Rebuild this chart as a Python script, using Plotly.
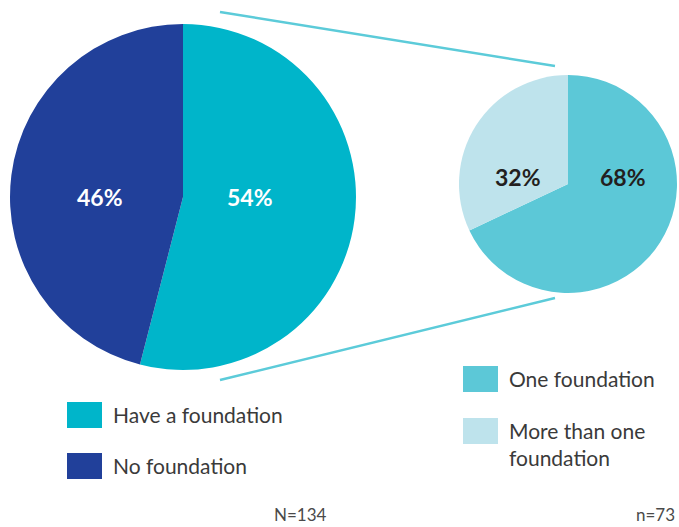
import plotly.graph_objects as go

W, H = 679, 527

# Overall split
main_labels = ["Have a foundation", "No foundation"]
main_values = [54, 46]
main_colors = ["#00B5CA", "#21409A"]

# Breakdown of those that have a foundation
sub_labels = ["One foundation", "More than one foundation"]
sub_values = [68, 32]
sub_colors = ["#5CC8D7", "#BEE3EC"]

main_n = "N=134"
sub_n = "n=73"

FONT = "Lato"
TEXT_COLOR = "#3A3A3A"


def px_x(x):
    return x / W


def px_y(y):
    return 1 - y / H


def pie_domain(cx, cy, r):
    return dict(x=[px_x(cx - r), px_x(cx + r)], y=[px_y(cy + r), px_y(cy - r)])


fig = go.Figure()

fig.add_trace(go.Pie(
    labels=main_labels, values=main_values,
    marker=dict(colors=main_colors, line=dict(width=0)),
    sort=False, direction="clockwise", rotation=0,
    textinfo="none", hoverinfo="label+percent",
    domain=pie_domain(183, 197, 173), showlegend=False,
))

fig.add_trace(go.Pie(
    labels=sub_labels, values=sub_values,
    marker=dict(colors=sub_colors, line=dict(width=0)),
    sort=False, direction="clockwise", rotation=0,
    textinfo="none", hoverinfo="label+percent",
    domain=pie_domain(568, 184, 109), showlegend=False,
))

annotations = []
shapes = []

# Percentage labels on the slices
pct_pos = [
    (main_values[0], 250, 197, "white"),
    (main_values[1], 100, 197, "white"),
    (sub_values[0], 623, 177, "#231F20"),
    (sub_values[1], 518, 177, "#231F20"),
]
for v, x, y, c in pct_pos:
    annotations.append(dict(
        x=px_x(x), y=px_y(y), xref="paper", yref="paper",
        text=f"<b>{v}%</b>", showarrow=False,
        font=dict(family=FONT, size=23, color=c),
        xanchor="center", yanchor="middle",
    ))

# Connector lines from the big pie to the breakdown pie
for (x0, y0, x1, y1) in [(220, 12, 555, 66), (220, 380, 555, 298)]:
    shapes.append(dict(
        type="line", xref="paper", yref="paper",
        x0=px_x(x0), y0=px_y(y0), x1=px_x(x1), y1=px_y(y1),
        line=dict(color="#5CCBD9", width=2.4),
    ))

# Legends drawn as swatches + text
legend_items = [
    (main_colors[0], main_labels[0], 67, 402),
    (main_colors[1], main_labels[1], 67, 453),
    (sub_colors[0], sub_labels[0], 463, 366),
    (sub_colors[1], "More than one<br>foundation", 463, 418),
]
for color, text, x, y in legend_items:
    shapes.append(dict(
        type="rect", xref="paper", yref="paper",
        x0=px_x(x), x1=px_x(x + 35), y0=px_y(y + 26), y1=px_y(y),
        fillcolor=color, line=dict(width=0),
    ))
    annotations.append(dict(
        x=px_x(x + 44), y=px_y(y - 2), xref="paper", yref="paper",
        text=text, showarrow=False, align="left",
        font=dict(family=FONT, size=21, color=TEXT_COLOR),
        xanchor="left", yanchor="top",
    ))

# Sample sizes
for text, x in [(main_n, 329), (sub_n, 677)]:
    annotations.append(dict(
        x=px_x(x), y=px_y(514), xref="paper", yref="paper",
        text=text, showarrow=False,
        font=dict(family=FONT, size=17, color="#4A4A4A"),
        xanchor="right", yanchor="middle",
    ))

fig.update_layout(
    width=W, height=H,
    margin=dict(l=0, r=0, t=0, b=0),
    paper_bgcolor="white", plot_bgcolor="white",
    shapes=shapes, annotations=annotations,
)

fig.write_html("out.html")
